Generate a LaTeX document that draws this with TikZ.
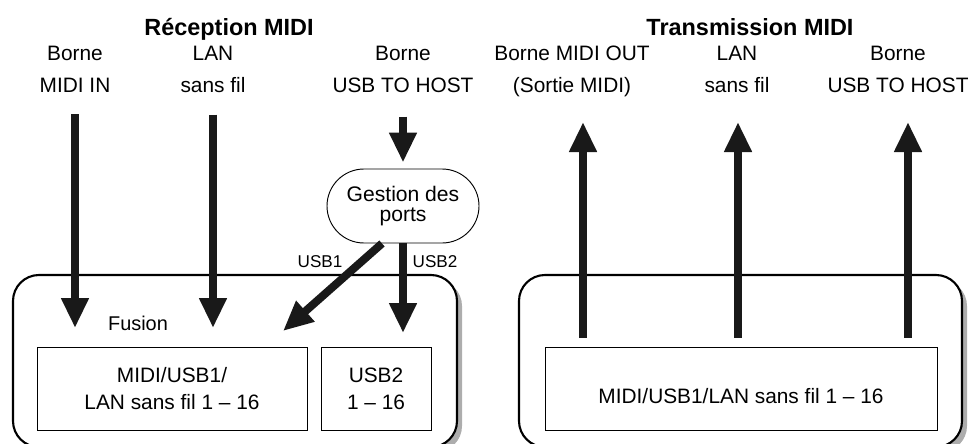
\documentclass[tikz,border=0pt]{standalone}
\usepackage{fontspec}
\setmainfont{Liberation Sans}
\usetikzlibrary{arrows.meta,positioning}

\tikzset{
  termlbl/.style={font=\fontsize{17.8}{27}\selectfont,align=center,inner sep=0pt,anchor=north},
  paneltitle/.style={font=\fontsize{20}{24}\selectfont\bfseries,inner sep=0pt,anchor=base},
  portlbl/.style={font=\fontsize{14.6}{17}\selectfont,inner sep=0pt,anchor=base},
  chanbox/.style={draw,line width=0.8pt,minimum height=2.49cm,inner sep=0pt,align=center,font=\fontsize{17.8}{23}\selectfont},
  fatarrow/.style={line width=0.24cm,black!90,-{Triangle[length=0.9cm,width=0.78cm]}},
  panel/.style={line width=1.8pt,fill=white,rounded corners=0.78cm},
  panelshadow/.style={fill=black!32,rounded corners=0.78cm}
}

\begin{document}
\begin{tikzpicture}[x=0.03cm,y=-0.03cm]
\useasboundingbox (0,0) rectangle (980,443);
% left: reception
\begin{scope}
\begin{scope}
\clip (300,0) rectangle (480,443);
\fill[panelshadow] (18,280) rectangle (462,452);
\end{scope}
\draw[panel] (13,275) rectangle (457,447);
\node[paneltitle] (recvtitle) at (229,35) {Réception MIDI};
\node[termlbl] (midiin) at (75,46) {Borne\\MIDI IN};
\node[termlbl] (lanin) at (213,46) {LAN\\sans fil};
\node[termlbl] (usbin) at (403,46) {Borne\\USB TO HOST};
\node[draw,line width=0.8pt,rounded corners=1.11cm,minimum width=4.56cm,minimum height=2.22cm,inner sep=0pt,align=center,font=\fontsize{18}{17}\selectfont] (ports) at (403,206) {Gestion des\\ports};
\node[chanbox,minimum width=8.1cm] (mixbox) at (172,388.5) {MIDI/USB1/\\LAN sans fil 1 – 16};
\node[chanbox,minimum width=3.3cm] (usbtwobox) at (376,388.5) {USB2\\1 – 16};
\node[font=\fontsize{17}{20}\selectfont,inner sep=0pt,anchor=base] (fusion) at (138,330) {Fusion};
\node[portlbl] (usbonelbl) at (320,267) {USB1};
\node[portlbl] (usbtwolbl) at (435,267) {USB2};
\coordinate (midiend) at (75,328);
\coordinate (lanend) at (213,328);
\coordinate (usbonetip) at (283,331);
\coordinate (usbtwotip) at (403,333);
\draw[fatarrow,shorten <=0.66cm] (midiin) -- (midiend);
\draw[fatarrow,shorten <=0.66cm] (lanin) -- (lanend);
\draw[fatarrow,shorten <=0.72cm,shorten >=0.18cm] (usbin) -- (ports);
\draw[fatarrow] ([xshift=-0.63cm]ports.south) -- (usbonetip);
\draw[fatarrow] (ports) -- (usbtwotip);
\end{scope}
% right: transmission
\begin{scope}
\begin{scope}
\clip (800,0) rectangle (980,443);
\fill[panelshadow] (524,280) rectangle (967,452);
\end{scope}
\draw[panel] (519,275) rectangle (962,447);
\node[paneltitle] (sendtitle) at (750,35) {Transmission MIDI};
\node[termlbl] (midiout) at (572,46) {Borne MIDI OUT\\(Sortie MIDI)};
\node[termlbl] (lanout) at (737,46) {LAN\\sans fil};
\node[termlbl] (usbout) at (898,46) {Borne\\USB TO HOST};
\node[chanbox,minimum width=11.76cm,text height=0.87cm,text depth=0pt] (sendbox) at (741,388.5) {MIDI/USB1/LAN sans fil 1 – 16};
\foreach \x/\tip in {583/midiouttip,738/lanouttip,908/usbouttip} {
  \coordinate (\tip) at (\x,122);
  \draw[fatarrow,shorten <=0.27cm] (sendbox.north -| \tip) -- (\tip);
}
\end{scope}
\end{tikzpicture}
\end{document}
